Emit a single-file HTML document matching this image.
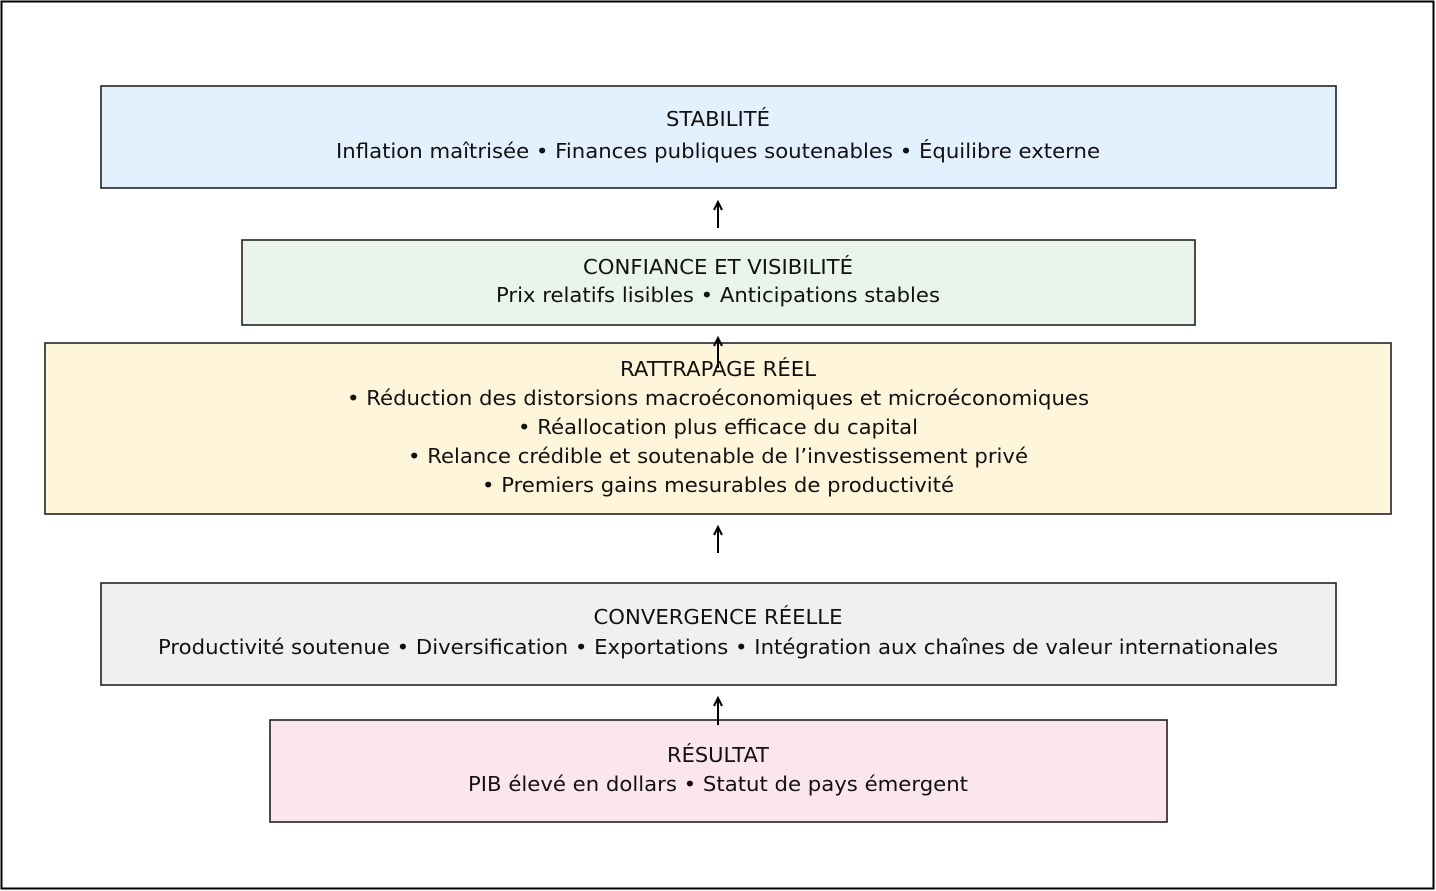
<!DOCTYPE html>
<html><head><meta charset="utf-8"><style>
html,body{margin:0;padding:0;background:#fff;}
svg{display:block;}
text{font-family:"DejaVu Sans","Liberation Sans",sans-serif;font-size:20.5px;fill:#111;text-anchor:middle;}
</style></head><body>
<svg width="1436" height="891" viewBox="0 0 1436 891" xmlns="http://www.w3.org/2000/svg">
<rect x="1.5" y="1.5" width="1432" height="887" fill="#fff" stroke="#000" stroke-width="2"/>
<rect x="101" y="86" width="1235" height="102" fill="#e3f0fd" stroke="#222" stroke-width="1.6"/>
<rect x="242" y="240" width="953" height="85" fill="#e9f4ea" stroke="#222" stroke-width="1.6"/>
<rect x="45" y="343" width="1346" height="171" fill="#fff5da" stroke="#222" stroke-width="1.6"/>
<rect x="101" y="583" width="1235" height="102" fill="#f0f0f0" stroke="#222" stroke-width="1.6"/>
<rect x="270" y="720" width="897" height="102" fill="#fbe5ee" stroke="#222" stroke-width="1.6"/>
<g stroke="#000" stroke-width="2" fill="none">
<path d="M718,228 V203 M714,210 L718,202 L722,210"/>
<path d="M718,368 V339 M714,346 L718,338 L722,346"/>
<path d="M718,553 V528 M714,535 L718,527 L722,535"/>
<path d="M718,725 V699 M714,706 L718,698 L722,706"/>
</g>
<text x="718" y="126" textLength="104" lengthAdjust="spacingAndGlyphs">STABILITÉ</text>
<text x="718" y="158" textLength="764" lengthAdjust="spacingAndGlyphs">Inflation maîtrisée • Finances publiques soutenables • Équilibre externe</text>
<text x="718" y="274" textLength="270" lengthAdjust="spacingAndGlyphs">CONFIANCE ET VISIBILITÉ</text>
<text x="718" y="302" textLength="444" lengthAdjust="spacingAndGlyphs">Prix relatifs lisibles • Anticipations stables</text>
<text x="718" y="376" textLength="196" lengthAdjust="spacingAndGlyphs">RATTRAPAGE RÉEL</text>
<text x="718" y="405" textLength="742" lengthAdjust="spacingAndGlyphs">• Réduction des distorsions macroéconomiques et microéconomiques</text>
<text x="718" y="434" textLength="400" lengthAdjust="spacingAndGlyphs">• Réallocation plus efficace du capital</text>
<text x="718" y="463" textLength="620" lengthAdjust="spacingAndGlyphs">• Relance crédible et soutenable de l’investissement privé</text>
<text x="718" y="492" textLength="472" lengthAdjust="spacingAndGlyphs">• Premiers gains mesurables de productivité</text>
<text x="718" y="624" textLength="249" lengthAdjust="spacingAndGlyphs">CONVERGENCE RÉELLE</text>
<text x="718" y="654" textLength="1120" lengthAdjust="spacingAndGlyphs">Productivité soutenue • Diversification • Exportations • Intégration aux chaînes de valeur internationales</text>
<text x="718" y="762" textLength="102" lengthAdjust="spacingAndGlyphs">RÉSULTAT</text>
<text x="718" y="791" textLength="500" lengthAdjust="spacingAndGlyphs">PIB élevé en dollars • Statut de pays émergent</text>
</svg>
</body></html>
